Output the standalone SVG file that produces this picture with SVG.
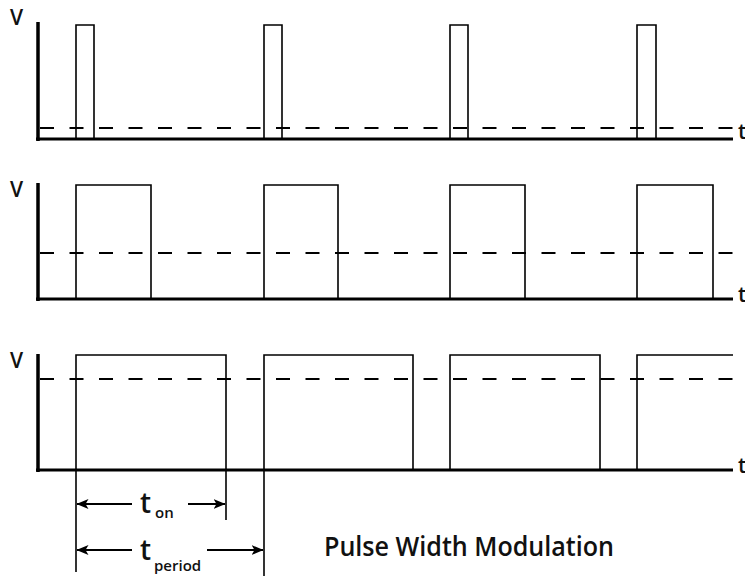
<svg xmlns="http://www.w3.org/2000/svg" width="745" height="576" viewBox="0 0 745 576">
<style>
.axis{stroke:#000;stroke-width:3.5;fill:none}
.base{stroke:#000;stroke-width:3;fill:none}
.wave{stroke:#000;stroke-width:1.6;fill:none}
.dash{stroke:#000;stroke-width:2;fill:none;stroke-dasharray:14 15.5}
.ext{stroke:#000;stroke-width:1.6;fill:none}
.dim{stroke:#000;stroke-width:1.8;fill:none}
.lbl{font-family:"Open Sans","Liberation Sans",Arial,sans-serif;font-size:21px;font-weight:600;fill:#111}
.big{font-family:"Open Sans","Liberation Sans",sans-serif;font-size:28px;font-weight:600;fill:#111}
.sub{font-family:"Open Sans","Liberation Sans",sans-serif;font-size:15px;font-weight:600;fill:#111}
.title{font-family:"Open Sans","Liberation Sans",sans-serif;font-size:27px;font-weight:600;fill:#111}
</style>
<defs>
<marker id="ah" viewBox="0 0 12 10" refX="11.5" refY="5" markerWidth="12" markerHeight="10" markerUnits="userSpaceOnUse" orient="auto-start-reverse">
<path d="M0,0 L12,5 L0,10 L3,5 Z" fill="#000"/>
</marker>
</defs>
<rect width="745" height="576" fill="#fff"/>

<g id="panel1">
<text class="lbl" x="10" y="25">V</text>
<line class="axis" x1="38" y1="22" x2="38" y2="141"/>
<line class="dash" x1="40" y1="128" x2="735" y2="128"/>
<line class="base" x1="36" y1="139" x2="733" y2="139"/>
<path class="wave" d="M76,139 V25 H94 V139 M264,139 V25 H282 V139 M450,139 V25 H468 V139 M637,139 V25 H656 V139"/>
<text class="lbl" x="738" y="139">t</text>
</g>

<g id="panel2">
<text class="lbl" x="10" y="197">V</text>
<line class="axis" x1="38" y1="183" x2="38" y2="301"/>
<line class="dash" x1="40" y1="253" x2="735" y2="253"/>
<line class="base" x1="36" y1="299" x2="733" y2="299"/>
<path class="wave" d="M76,299 V185 H151 V299 M264,299 V185 H338 V299 M450,299 V185 H525 V299 M637,299 V185 H713 V299"/>
<text class="lbl" x="738" y="302">t</text>
</g>

<g id="panel3">
<text class="lbl" x="10" y="368">V</text>
<line class="axis" x1="38" y1="354" x2="38" y2="472"/>
<line class="dash" x1="40" y1="379" x2="735" y2="379"/>
<line class="base" x1="36" y1="470" x2="733" y2="470"/>
<path class="wave" d="M76,470 V355 H226 V470 M264,470 V355 H413 V470 M450,470 V355 H600 V470 M637,470 V355 H733"/>
<text class="lbl" x="738" y="473">t</text>
</g>

<g id="connectors">
<line class="ext" x1="76" y1="470" x2="76" y2="572"/>
<line class="ext" x1="226" y1="470" x2="226" y2="520"/>
<line class="ext" x1="264" y1="470" x2="264" y2="576"/>
<line class="dim" x1="132" y1="504" x2="77" y2="504" marker-end="url(#ah)"/>
<line class="dim" x1="188" y1="504" x2="225" y2="504" marker-end="url(#ah)"/>
<line class="dim" x1="132" y1="550" x2="77" y2="550" marker-end="url(#ah)"/>
<line class="dim" x1="207" y1="550" x2="263" y2="550" marker-end="url(#ah)"/>
</g>

<g id="labels">
<text class="big" x="140" y="513">t</text>
<text class="sub" x="155" y="518">on</text>
<text class="big" x="140" y="560">t</text>
<text class="sub" x="154" y="571">period</text>
<text class="title" x="324" y="556" textLength="290" lengthAdjust="spacingAndGlyphs">Pulse Width Modulation</text>
</g>
</svg>
